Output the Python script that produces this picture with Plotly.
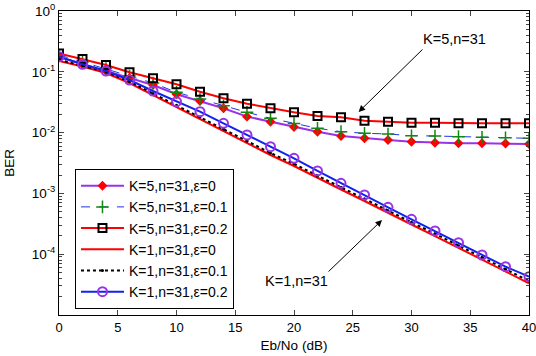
import plotly.graph_objects as go

ebno = [0, 2, 4, 6, 8, 10, 12, 14, 16, 18, 20, 22, 24, 26, 28, 30, 32, 34, 36, 38, 40]

ber_k5_e0 = [0.175, 0.1343, 0.1050, 0.0791, 0.0607, 0.0427, 0.0331, 0.0251, 0.0183, 0.0151,
             0.01236, 0.01035, 0.00879, 0.00806, 0.00755, 0.00708, 0.00682, 0.00667, 0.00667,
             0.00662, 0.00649]
ber_k5_e01 = [0.189, 0.145, 0.1133, 0.0853, 0.0654, 0.0460, 0.0357, 0.0277, 0.0216, 0.01718,
              0.01412, 0.01177, 0.01037, 0.00975, 0.00949, 0.00889, 0.00879, 0.00857, 0.00838,
              0.00824, 0.00806]
ber_k5_e02 = [0.200, 0.1624, 0.1294, 0.0981, 0.0782, 0.0623, 0.0471, 0.0367, 0.0299, 0.0251,
              0.0216, 0.01875, 0.01786, 0.01570, 0.01511, 0.01455, 0.01455, 0.01422, 0.01422,
              0.01422, 0.01422]
ber_k1_e0 = [0.1506, 0.1222, 0.0955, 0.0654, 0.0415, 0.0264, 0.01675, 0.01062, 0.00675, 0.00428,
             0.00282, 0.00179, 0.001159, 0.000750, 0.000476, 0.000308, 0.000199, 0.0001265,
             0.0000818, 0.0000519, 0.0000332]
ber_k1_e01 = [0.158, 0.127, 0.0995, 0.0690, 0.0440, 0.0282, 0.0180, 0.01145, 0.00730, 0.00463,
              0.00306, 0.00194, 0.001258, 0.000815, 0.000518, 0.000335, 0.000217, 0.0001378,
              0.0000891, 0.0000566, 0.0000362]
ber_k1_e02 = [0.177, 0.1328, 0.1031, 0.0733, 0.0483, 0.0322, 0.0221, 0.01422, 0.00914, 0.00586,
              0.00378, 0.00234, 0.001465, 0.000942, 0.000591, 0.000375, 0.000241, 0.0001546,
              0.0000970, 0.0000623, 0.0000427]

series_names = ["K=5,n=31,ε=0", "K=5,n=31,ε=0.1", "K=5,n=31,ε=0.2",
                "K=1,n=31,ε=0", "K=1,n=31,ε=0.1", "K=1,n=31,ε=0.2"]

y_tickvals = [1, 0.1, 0.01, 0.001, 0.0001, 0.00001]
y_ticktext = ["10<sup>0</sup>", "10<sup>-1</sup>", "10<sup>-2</sup>", "10<sup>-3</sup>",
              "10<sup>-4</sup>", ""]
y_minor_vals = [m * 10.0 ** e for e in range(-5, 0) for m in range(2, 10)]
x_tickvals = [0, 5, 10, 15, 20, 25, 30, 35, 40]

purple = "#9933E6"
font = "Liberation Sans, Arial, sans-serif"

fig = go.Figure()
fig.add_trace(go.Scatter(x=ebno, y=ber_k5_e0, name=series_names[0], mode="lines+markers",
                         line=dict(color=purple, width=2),
                         marker=dict(symbol="diamond", size=6, color="red",
                                     line=dict(color="red", width=1.5))))
fig.add_trace(go.Scatter(x=ebno, y=ber_k5_e01, name=series_names[1], mode="lines+markers",
                         line=dict(color="#2233EE", width=1, dash="dash"),
                         marker=dict(symbol="cross-thin", size=9,
                                     line=dict(color="#118811", width=1.5))))
fig.add_trace(go.Scatter(x=ebno, y=ber_k5_e02, name=series_names[2], mode="lines+markers",
                         line=dict(color="red", width=2),
                         marker=dict(symbol="square-open", size=8, color="black",
                                     line=dict(color="black", width=2))))
fig.add_trace(go.Scatter(x=ebno, y=ber_k1_e0, name=series_names[3], mode="lines",
                         line=dict(color="red", width=2)))
fig.add_trace(go.Scatter(x=ebno, y=ber_k1_e01, name=series_names[4], mode="lines+markers",
                         line=dict(color="black", width=2, dash="dot"),
                         marker=dict(symbol="circle", size=3, color="black")))
fig.add_trace(go.Scatter(x=ebno, y=ber_k1_e02, name=series_names[5], mode="lines+markers",
                         line=dict(color="#1122EE", width=2),
                         marker=dict(symbol="circle-open", size=9, color=purple,
                                     line=dict(color=purple, width=2))))
# invisible helper trace so the minor-tick overlay axis is drawn
fig.add_trace(go.Scatter(x=[None], y=[None], yaxis="y2", showlegend=False,
                         hoverinfo="skip", mode="lines"))

arrow = dict(showarrow=True, arrowhead=2, arrowsize=1.3, arrowwidth=1, arrowcolor="black",
             axref="x", ayref="y", text="", xref="x", yref="y")
fig.add_annotation(x=25.5, y=-1.66, ax=31.06, ay=-0.609, **arrow)
fig.add_annotation(x=27.49, y=-3.438, ax=22.81, ay=-4.309, **arrow)
fig.add_annotation(x=33.7, y=-0.46, text="K=5,n=31", showarrow=False,
                   font=dict(size=14.5, color="black", family=font))
fig.add_annotation(x=20.2, y=-4.44, text="K=1,n=31", showarrow=False,
                   font=dict(size=14.5, color="black", family=font))

fig.update_layout(
    width=536, height=356,
    margin=dict(l=59, r=7, t=11, b=41),
    paper_bgcolor="white", plot_bgcolor="white",
    font=dict(family=font, size=13, color="black"),
    showlegend=True,
    legend=dict(x=0.034, y=0.48, xanchor="left", yanchor="top",
                bgcolor="white", bordercolor="black", borderwidth=1,
                font=dict(size=14, family=font), itemwidth=43,
                tracegroupgap=0),
    xaxis=dict(range=[0, 40], tickvals=x_tickvals, ticks="inside", ticklen=5,
               showline=True, linecolor="black", linewidth=1, mirror="ticks",
               showgrid=False, zeroline=False, ticklabeloverflow="allow",
               automargin=False, tickfont=dict(size=13),
               title=dict(text="Eb/No (dB)", standoff=6, font=dict(size=13.5))),
    yaxis=dict(type="log", range=[-5, 0], tickvals=y_tickvals, ticktext=y_ticktext,
               ticks="inside", ticklen=5, showline=True, linecolor="black", linewidth=1,
               mirror="ticks", showgrid=False, zeroline=False, automargin=False,
               tickfont=dict(size=13.5),
               title=dict(text="BER", standoff=14, font=dict(size=13.5))),
    yaxis2=dict(type="log", range=[-5, 0], overlaying="y", side="left",
                tickvals=y_minor_vals, showticklabels=False, ticks="inside", ticklen=3,
                showline=True, linecolor="black", linewidth=1, mirror="ticks",
                showgrid=False, zeroline=False, automargin=False),
)

fig.write_html("out.html", config={"displayModeBar": False})

with open("out.html", "r", encoding="utf-8") as f:
    html = f.read()
html = html.replace("<head>", "<head><style>html,body{margin:0;padding:0;overflow:hidden;}</style>", 1)
with open("out.html", "w", encoding="utf-8") as f:
    f.write(html)
